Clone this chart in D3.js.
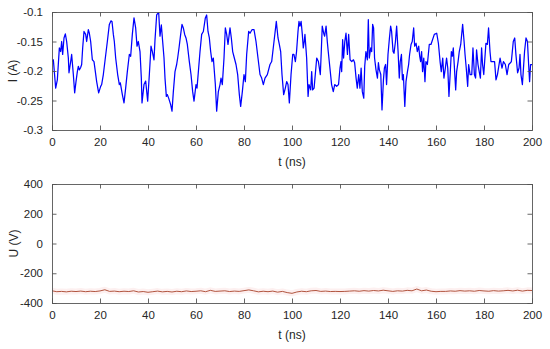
<!DOCTYPE html>
<html>
<head>
<meta charset="utf-8">
<script src="https://cdn.jsdelivr.net/npm/d3@7"></script>
<style>
  html, body { margin: 0; padding: 0; background: #fff; }
  svg { display: block; }
  text { font-family: "Liberation Sans", Arial, Helvetica, sans-serif; fill: #262626; }
</style>
</head>
<body>
<svg id="chart" width="550" height="349"></svg>
<script>
// ---- Data ----
const currentTime = [0,0.56,1.53,2.22,3.06,3.61,4.03,4.44,5.0,5.56,6.11,6.81,7.08,7.78,8.19,8.89,9.44,10.0,10.56,10.97,11.39,11.94,12.36,12.78,13.33,14.03,14.44,15.14,15.56,16.11,16.81,17.5,18.06,18.61,19.44,20.28,20.69,21.39,22.22,23.06,23.89,24.58,25.0,25.56,25.97,26.53,27.36,28.06,28.47,29.31,30.0,30.69,31.39,32.22,32.78,33.47,34.17,34.86,35.42,35.97,36.67,37.22,37.5,38.33,39.03,39.86,40.56,41.25,41.81,42.5,42.92,43.61,44.17,44.44,45.0,45.56,46.11,46.67,47.08,47.64,48.06,48.61,49.44,50.0,50.56,51.25,51.94,52.36,52.92,53.61,54.17,54.72,55.28,55.83,56.39,57.22,57.92,58.61,59.17,60.0,60.42,61.11,61.67,62.36,63.06,63.89,64.44,65.0,65.56,66.11,66.67,67.22,68.06,68.61,69.31,70.0,70.42,70.97,71.67,72.22,72.78,73.33,74.17,74.72,75.28,75.97,76.67,77.36,78.06,78.61,79.31,80.0,80.56,81.11,81.94,82.5,83.33,84.17,85.0,85.83,86.67,87.36,88.06,88.75,89.72,90.83,91.53,92.5,93.47,94.17,94.72,95.28,95.83,96.53,97.22,97.78,98.33,98.89,99.6,100.3,100.8,101.4,101.9,102.5,102.9,103.3,103.8,104.3,104.7,105.1,105.4,106.1,106.7,107.1,107.8,108.2,108.6,109.2,109.7,110.3,111.0,111.4,111.8,112.2,112.6,113.2,113.6,114.2,114.7,115.1,115.8,116.5,117.2,117.8,118.6,119.4,120.0,120.4,120.7,121.1,121.5,122.0,122.5,123.1,123.6,124.2,124.9,125.6,126.1,126.7,127.2,127.8,128.3,128.8,129.3,129.9,130.3,130.8,131.4,131.8,132.2,132.8,133.2,133.6,134.0,134.4,135.0,135.6,136.0,136.4,137.0,137.5,138.1,138.5,139.0,139.4,140.0,140.6,141.1,141.5,142.1,142.5,143.1,143.6,144.2,144.7,145.1,145.6,146.0,146.4,147.0,147.5,148.1,148.6,149.0,149.6,150.1,150.7,151.1,151.7,152.2,152.8,153.2,153.6,154.0,154.4,154.9,155.4,155.8,156.4,157.2,157.9,159.3,160.3,161.0,161.7,162.2,162.8,163.3,163.9,164.4,164.9,165.4,166.0,166.4,166.8,167.2,167.6,168.2,168.6,169.2,169.7,170.3,171.1,171.7,172.1,172.6,173.2,173.6,174.2,174.9,175.4,176.0,176.5,176.9,177.5,178.1,178.5,179.0,179.4,179.9,180.8,181.4,181.9,182.5,182.9,183.6,184.4,185.0,185.6,186.7,187.5,188.1,188.9,189.6,190.3,191.0,191.4,192.2,192.8,193.3,194.0,194.6,195.0,195.4,196.0,196.9,197.5,198.1,198.6,199.0,199.4,200.0];
const currentA = [-0.184,-0.181,-0.229,-0.215,-0.161,-0.167,-0.150,-0.172,-0.144,-0.137,-0.150,-0.178,-0.203,-0.184,-0.172,-0.206,-0.237,-0.218,-0.201,-0.192,-0.198,-0.194,-0.189,-0.161,-0.133,-0.138,-0.150,-0.130,-0.136,-0.150,-0.181,-0.184,-0.201,-0.218,-0.237,-0.226,-0.223,-0.206,-0.178,-0.150,-0.121,-0.115,-0.116,-0.138,-0.150,-0.178,-0.206,-0.223,-0.220,-0.240,-0.254,-0.229,-0.201,-0.172,-0.175,-0.138,-0.110,-0.127,-0.158,-0.150,-0.167,-0.212,-0.254,-0.223,-0.217,-0.251,-0.206,-0.158,-0.167,-0.181,-0.147,-0.105,-0.102,-0.100,-0.141,-0.122,-0.150,-0.178,-0.212,-0.243,-0.240,-0.246,-0.257,-0.268,-0.235,-0.201,-0.189,-0.178,-0.161,-0.138,-0.121,-0.127,-0.138,-0.144,-0.155,-0.184,-0.206,-0.235,-0.251,-0.223,-0.229,-0.195,-0.167,-0.138,-0.133,-0.110,-0.105,-0.133,-0.144,-0.167,-0.184,-0.178,-0.223,-0.268,-0.235,-0.223,-0.212,-0.223,-0.178,-0.127,-0.138,-0.155,-0.127,-0.144,-0.167,-0.178,-0.189,-0.206,-0.240,-0.260,-0.235,-0.206,-0.218,-0.172,-0.133,-0.136,-0.130,-0.130,-0.150,-0.178,-0.206,-0.212,-0.223,-0.212,-0.206,-0.189,-0.184,-0.150,-0.116,-0.144,-0.155,-0.167,-0.206,-0.240,-0.229,-0.218,-0.223,-0.254,-0.206,-0.172,-0.172,-0.184,-0.167,-0.133,-0.116,-0.124,-0.116,-0.138,-0.161,-0.150,-0.138,-0.178,-0.243,-0.223,-0.232,-0.201,-0.232,-0.229,-0.206,-0.178,-0.184,-0.195,-0.206,-0.167,-0.124,-0.136,-0.141,-0.124,-0.150,-0.167,-0.195,-0.223,-0.235,-0.223,-0.226,-0.223,-0.195,-0.184,-0.201,-0.147,-0.178,-0.150,-0.136,-0.172,-0.138,-0.181,-0.184,-0.181,-0.186,-0.212,-0.229,-0.206,-0.229,-0.195,-0.235,-0.246,-0.192,-0.167,-0.181,-0.113,-0.178,-0.161,-0.167,-0.121,-0.127,-0.178,-0.198,-0.212,-0.186,-0.198,-0.206,-0.266,-0.215,-0.195,-0.189,-0.223,-0.172,-0.144,-0.124,-0.133,-0.167,-0.170,-0.150,-0.124,-0.167,-0.212,-0.184,-0.172,-0.215,-0.206,-0.260,-0.218,-0.201,-0.189,-0.172,-0.155,-0.150,-0.127,-0.158,-0.153,-0.167,-0.158,-0.175,-0.184,-0.167,-0.201,-0.178,-0.218,-0.184,-0.189,-0.155,-0.155,-0.138,-0.136,-0.153,-0.184,-0.201,-0.178,-0.212,-0.195,-0.178,-0.195,-0.243,-0.198,-0.167,-0.175,-0.161,-0.189,-0.232,-0.201,-0.184,-0.167,-0.155,-0.121,-0.150,-0.172,-0.195,-0.226,-0.189,-0.206,-0.206,-0.161,-0.206,-0.212,-0.164,-0.189,-0.203,-0.212,-0.161,-0.189,-0.206,-0.153,-0.155,-0.127,-0.167,-0.184,-0.184,-0.184,-0.215,-0.206,-0.178,-0.195,-0.184,-0.189,-0.206,-0.189,-0.186,-0.184,-0.150,-0.144,-0.172,-0.203,-0.195,-0.172,-0.206,-0.223,-0.167,-0.144,-0.150,-0.189,-0.218,-0.189,-0.189];

const voltageTime = d3.range(0, 201, 2);
const voltageV = [-318,-324,-322,-325,-321,-323,-320,-324,-321,-323,-319,-311,-322,-320,-324,-321,-323,-318,-326,-323,-328,-324,-320,-325,-322,-326,-321,-324,-319,-323,-321,-318,-324,-315,-322,-320,-318,-323,-320,-322,-317,-312,-318,-325,-321,-324,-320,-327,-322,-330,-335,-326,-321,-324,-318,-316,-322,-320,-323,-322,-323,-322,-320,-318,-321,-317,-320,-316,-319,-314,-318,-322,-318,-320,-315,-318,-306,-318,-313,-321,-324,-322,-322,-319,-321,-317,-320,-318,-321,-316,-319,-321,-317,-320,-318,-315,-319,-314,-320,-315,-316];

const xTicks = [0,20,40,60,80,100,120,140,160,180,200];
const iTicks = [-0.3,-0.25,-0.2,-0.15,-0.1];
const uTicks = [-400,-200,0,200,400];
const iTickLabels = ["-0.3","-0.25","-0.2","-0.15","-0.1"];
const uTickLabels = ["-400","-200","0","200","400"];

// ---- Drawing ----
const svg = d3.select("#chart");
const left = 52, right = 532;
const axisColor = "#555555";
const textColor = "#262626";
const tickLen = 4.5;

function panel(opts) {
  const x = d3.scaleLinear().domain([0, 200]).range([left, right]);
  const y = d3.scaleLinear().domain(opts.yDomain).range([opts.bottom, opts.top]);
  const g = svg.append("g");

  const line = d3.line().x((d, i) => x(opts.tx[i])).y(d => y(d));
  const clipId = "clip" + opts.id;
  svg.append("clipPath").attr("id", clipId).append("rect")
    .attr("x", left).attr("y", opts.top).attr("width", right - left).attr("height", opts.bottom - opts.top);
  if (opts.halo) {
    g.append("path").datum(opts.vals).attr("d", line)
      .attr("fill", "none").attr("stroke", opts.halo).attr("stroke-width", 6)
      .attr("stroke-linejoin", "round").attr("clip-path", `url(#${clipId})`);
  }
  g.append("path").datum(opts.vals).attr("d", line)
    .attr("fill", "none").attr("stroke", opts.color).attr("stroke-width", opts.width)
    .attr("stroke-linejoin", "round").attr("clip-path", `url(#${clipId})`);

  const ax = d3.axisBottom(x).tickValues(xTicks).tickSize(-tickLen).tickPadding(8).tickFormat(d3.format("d"));
  const axT = d3.axisTop(x).tickValues(xTicks).tickSize(-tickLen).tickFormat("");
  const ay = d3.axisLeft(y).tickValues(opts.yTicks).tickSize(-tickLen).tickPadding(9)
    .tickFormat((d, i) => opts.yLabels[i]);
  const ayR = d3.axisRight(y).tickValues(opts.yTicks).tickSize(-tickLen).tickFormat("");

  const gx = g.append("g").attr("transform", `translate(0,${opts.bottom})`).call(ax);
  const gxt = g.append("g").attr("transform", `translate(0,${opts.top})`).call(axT);
  const gy = g.append("g").attr("transform", `translate(${left},0)`).call(ay);
  const gyr = g.append("g").attr("transform", `translate(${right},0)`).call(ayR);
  [gx, gxt, gy, gyr].forEach(a => {
    a.select(".domain").attr("stroke", axisColor).attr("stroke-width", 0.9);
    a.selectAll(".tick line").attr("stroke", axisColor).attr("stroke-width", 0.9);
    a.selectAll(".tick text").attr("fill", textColor)
      .style("font-family", '"Liberation Sans", Arial, sans-serif').style("font-size", "11.5px");
  });

  g.append("text").attr("x", (left + right) / 2).attr("y", opts.bottom + 36)
    .attr("text-anchor", "middle").style("font-size", "12px").text("t (ns)");
  g.append("text")
    .attr("transform", `translate(${opts.ylabX},${(opts.top + opts.bottom) / 2}) rotate(-90)`)
    .attr("text-anchor", "middle").attr("dominant-baseline", "central")
    .style("font-size", "12px").text(opts.ylab);
}

panel({
  id: 1, top: 12, bottom: 130, yDomain: [-0.3, -0.1], yTicks: iTicks, yLabels: iTickLabels,
  tx: currentTime, vals: currentA, color: "#0000ff", width: 1.25, ylab: "I (A)", ylabX: 13
});
panel({
  id: 2, top: 184, bottom: 303, yDomain: [-400, 400], yTicks: uTicks, yLabels: uTickLabels,
  tx: voltageTime, vals: voltageV, color: "#a8432a", width: 0.9, halo: "#fdf0f0", ylab: "U (V)", ylabX: 14
});
</script>
</body>
</html>
